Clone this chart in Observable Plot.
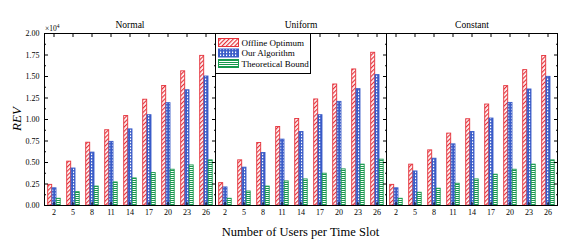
<!DOCTYPE html>
<html>
<head>
<meta charset="utf-8">
<script src="https://cdn.jsdelivr.net/npm/d3@7"></script>
<script src="https://cdn.jsdelivr.net/npm/@observablehq/plot@0.6"></script>
<style>
  html, body { margin: 0; padding: 0; background: white; }
</style>
</head>
<body>
<div id="chart"></div>
<script>
// ---- data (values in units of 10^4) ----
const users = [2, 5, 8, 11, 14, 17, 20, 23, 26];
const distributions = ["Normal", "Uniform", "Constant"];
const seriesNames = ["Offline Optimum", "Our Algorithm", "Theoretical Bound"];

const offlineNormal = [0.24, 0.51, 0.73, 0.875, 1.04, 1.23, 1.39, 1.56, 1.74];
const ourNormal = [0.20, 0.43, 0.615, 0.74, 0.885, 1.05, 1.19, 1.34, 1.50];
const boundNormal = [0.078, 0.155, 0.22, 0.268, 0.315, 0.377, 0.416, 0.466, 0.525];

const offlineUniform = [0.26, 0.525, 0.727, 0.913, 1.006, 1.233, 1.407, 1.582, 1.776];
const ourUniform = [0.21, 0.44, 0.61, 0.766, 0.855, 1.05, 1.205, 1.353, 1.516];
const boundUniform = [0.078, 0.163, 0.22, 0.28, 0.303, 0.37, 0.42, 0.475, 0.533];

const offlineConstant = [0.24, 0.475, 0.641, 0.836, 1.003, 1.174, 1.388, 1.574, 1.738];
const ourConstant = [0.20, 0.396, 0.544, 0.711, 0.855, 1.011, 1.193, 1.349, 1.496];
const boundConstant = [0.078, 0.148, 0.195, 0.253, 0.303, 0.358, 0.416, 0.475, 0.525];

const yMajorTicks = [0, 0.25, 0.5, 0.75, 1.0, 1.25, 1.5, 1.75, 2.0];
const yMinorTicks = [0.125, 0.375, 0.625, 0.875, 1.125, 1.375, 1.625, 1.875];

const values = [
  [offlineNormal, ourNormal, boundNormal],
  [offlineUniform, ourUniform, boundUniform],
  [offlineConstant, ourConstant, boundConstant]
];

const rows = [];
distributions.forEach((dist, di) =>
  users.forEach((u, ui) =>
    seriesNames.forEach((s, si) =>
      rows.push({dist, users: u, series: s, value: values[di][si][ui]}))));

// ---- styles ----
const colors = ["#e5323b", "#3a5cc8", "#17994d"];
const insets = [[3.7, 11.3], [8.0, 7.0], [12.2, 2.8]];
const font = "'Liberation Serif', 'Times New Roman', serif";

const bars = seriesNames.map((s, i) =>
  Plot.barY(rows.filter(r => r.series === s), {
    fx: "dist", x: "users", y: "value",
    fill: `url(#pat${i})`, stroke: colors[i], strokeWidth: 0.9,
    insetLeft: insets[i][0], insetRight: insets[i][1]
  }));

const blank = () => "";

const svg = Plot.plot({
  width: 581,
  height: 250,
  marginLeft: 44,
  marginRight: 24,
  marginTop: 33,
  marginBottom: 45,
  style: {fontFamily: font, fontSize: "8px", background: "white", color: "black"},
  fx: {domain: distributions, padding: 0, label: null},
  x: {domain: users, padding: 0, label: null},
  y: {domain: [0, 2], label: null},
  marks: [
    ...bars,
    Plot.frame({stroke: "black", strokeWidth: 1}),
    Plot.axisFx({anchor: "top", label: null, tickSize: 0, tickPadding: 6, fontSize: 9.5}),
    Plot.axisY({anchor: "left", ticks: yMajorTicks, tickFormat: d3.format(".2f"), tickSize: -4, tickPadding: 9, label: null}),
    Plot.axisY({anchor: "left", ticks: yMinorTicks, tickFormat: blank, tickSize: -2, label: null}),
    Plot.axisY({anchor: "right", facetAnchor: null, ticks: yMajorTicks, tickFormat: blank, tickSize: -4, label: null}),
    Plot.axisY({anchor: "right", facetAnchor: null, ticks: yMinorTicks, tickFormat: blank, tickSize: -2, label: null}),
    Plot.axisX({anchor: "bottom", ticks: users, tickSize: -3, tickPadding: 7, label: null}),
    Plot.axisX({anchor: "top", ticks: users, tickSize: -3, tickFormat: blank, label: null})
  ]
});

// ---- patterns ----
const s = d3.select(svg);
const defs = s.insert("defs", ":first-child");
// red diagonal hatch
const p0 = defs.append("pattern").attr("id", "pat0").attr("patternUnits", "userSpaceOnUse")
  .attr("width", 3).attr("height", 3).attr("patternTransform", "rotate(-45)");
p0.append("rect").attr("width", 3).attr("height", 3).attr("fill", "white");
p0.append("rect").attr("width", 3).attr("height", 1.2).attr("fill", colors[0]);
// blue dots/crosshatch
const p1 = defs.append("pattern").attr("id", "pat1").attr("patternUnits", "userSpaceOnUse")
  .attr("width", 3).attr("height", 3);
p1.append("rect").attr("width", 3).attr("height", 3).attr("fill", colors[1]);
p1.append("rect").attr("x", 1).attr("y", 0.5).attr("width", 1.2).attr("height", 1.6).attr("fill", "white");
// green horizontal lines
const p2 = defs.append("pattern").attr("id", "pat2").attr("patternUnits", "userSpaceOnUse")
  .attr("width", 4).attr("height", 2);
p2.append("rect").attr("width", 4).attr("height", 2).attr("fill", "white");
p2.append("rect").attr("width", 4).attr("height", 1).attr("fill", colors[2]);

// ---- legend (inside Uniform panel, top-left) ----
const lg = s.append("g").attr("font-family", font).attr("font-size", 9).attr("text-anchor", "start");
lg.append("rect").attr("x", 215.5).attr("y", 33.5).attr("width", 95).attr("height", 40)
  .attr("fill", "white").attr("stroke", "black").attr("stroke-width", 1);
seriesNames.forEach((name, i) => {
  const y = 38.5 + i * 10.5;
  lg.append("rect").attr("x", 218.5).attr("y", y).attr("width", 20).attr("height", 8)
    .attr("fill", `url(#pat${i})`).attr("stroke", colors[i]).attr("stroke-width", 1);
  lg.append("text").attr("x", 241.5).attr("y", y + 7).attr("text-anchor", "start").text(name);
});

// ---- scale multiplier, axis titles ----
const mult = s.append("text").attr("x", 45).attr("y", 30.5).attr("text-anchor", "start")
  .attr("font-family", font).attr("font-size", 7.5);
mult.append("tspan").text("×10");
mult.append("tspan").attr("dy", -3).attr("font-size", 5.5).text("4");

s.append("text").attr("transform", "translate(21,119) rotate(-90)")
  .attr("text-anchor", "middle").attr("font-family", font).attr("font-style", "italic")
  .attr("font-size", 13).text("REV");

s.append("text").attr("x", 300.5).attr("y", 235.5).attr("text-anchor", "middle")
  .attr("font-family", font).attr("font-size", 12.5).text("Number of Users per Time Slot");

document.getElementById("chart").appendChild(svg);
</script>
</body>
</html>
